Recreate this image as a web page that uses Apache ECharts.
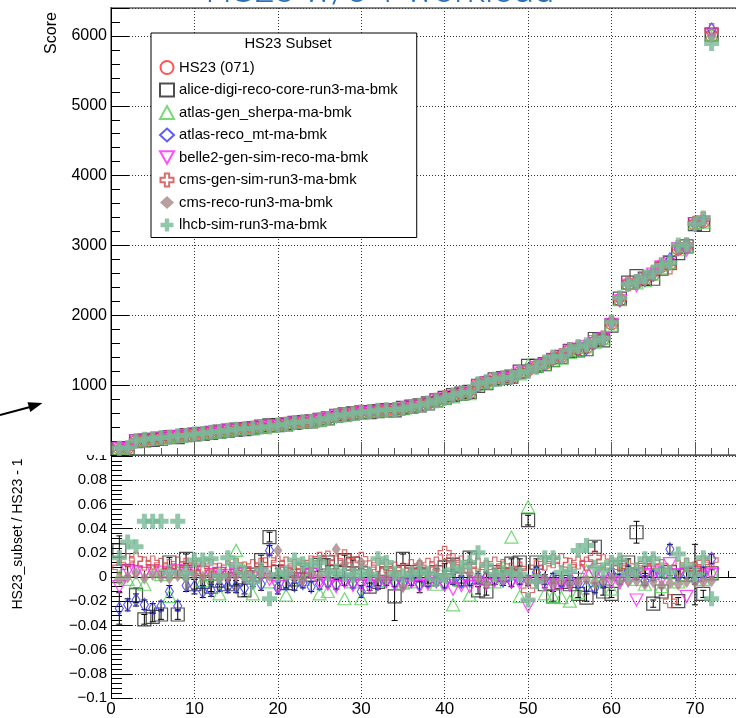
<!DOCTYPE html>
<html>
<head>
<meta charset="utf-8">
<title>HS23 w/o 1 workload</title>
<script src="https://cdn.jsdelivr.net/npm/echarts@6/dist/echarts.min.js"></script>
<style>
html,body{margin:0;padding:0;background:#fff;overflow:hidden;}
#main{width:760px;height:718px;}
</style>
</head>
<body>
<div id="main"></div>
<script>
// x positions of the 72 servers (sorted by HS23 score)
var xs = [1,2,3,4,5,6,7,8,9,10,11,12,13,14,15,16,17,18,19,20,21,22,23,24,25,26,27,28,29,30,31,32,33,34,35,36,
          37,38,39,40,41,42,43,44,45,46,47,48,49,50,51,52,53,54,55,56,57,58,59,60,61,62,63,64,65,66,67,68,69,70,71,72];

// HS23 score (upper panel)
var hs23 = [95,100,200,215,225,240,255,265,280,295,305,320,335,350,365,375,385,400,410,425,440,460,470,480,500,520,
            560,575,590,610,620,630,640,650,665,690,710,740,780,810,850,880,890,1000,1040,1080,1100,1110,1180,1220,
            1260,1310,1380,1410,1500,1520,1540,1620,1660,1880,2220,2440,2470,2510,2580,2700,2740,2950,2980,3300,3340,6000];

// HS23_subset / HS23 - 1 (lower panel), one array per subset
var alice = [0.022,0.005,-0.015,-0.035,-0.033,-0.031,0.012,-0.031,0.015,-0.006,-0.004,-0.008,-0.003,-0.006,-0.002,-0.011,
             0.002,0.014,0.033,0.004,-0.005,-0.002,0.006,0.002,0.010,0.012,0.004,0.014,0.011,0.003,-0.008,-0.004,0.003,
             -0.016,0.015,0.004,0.002,-0.002,0.004,0.008,0.010,-0.002,0.016,-0.011,-0.012,0.004,0.002,0.011,0.012,0.047,
             0.012,-0.006,-0.016,-0.004,-0.006,-0.014,-0.017,0.025,-0.012,-0.014,0.008,0.012,0.037,0.006,-0.022,-0.012,
             0.004,-0.020,0.002,0.002,-0.014,0.003];
var aliceErr = [0.012,0.004,0.006,0.004,0.004,0.004,0.004,0.004,0.004,0.004,0.004,0.004,0.003,0.004,0.004,0.005,
                0.003,0.004,0.004,0.003,0.004,0.003,0.003,0.003,0.004,0.003,0.003,0.004,0.003,0.004,0.003,0.003,0.003,
                0.020,0.004,0.003,0.006,0.003,0.003,0.003,0.004,0.003,0.004,0.003,0.003,0.003,0.003,0.004,0.003,0.004,
                0.003,0.003,0.004,0.003,0.003,0.003,0.003,0.004,0.003,0.003,0.003,0.003,0.009,0.003,0.003,0.003,
                0.003,0.003,0.003,0.025,0.003,0.003];
var atlasGen = [0.000,-0.002,-0.004,-0.006,0.005,0.002,-0.016,0.004,0.006,0.008,-0.003,0.002,-0.014,0.006,0.022,0.005,
                -0.014,0.004,-0.004,0.002,-0.015,0.003,-0.002,0.004,-0.014,-0.012,0.002,-0.018,-0.004,-0.018,0.003,-0.003,
                0.000,0.002,-0.005,-0.004,0.003,-0.002,-0.006,0.001,-0.023,-0.003,-0.015,0.002,0.000,-0.004,0.008,0.033,
                -0.016,0.058,0.003,-0.014,-0.016,-0.017,-0.020,-0.013,0.005,-0.003,0.004,-0.010,0.002,0.007,-0.002,-0.006,
                0.003,-0.008,0.004,-0.004,0.002,0.006,-0.002,0.004];
var atlasReco = [-0.026,-0.023,-0.019,-0.023,-0.026,-0.024,-0.012,-0.024,-0.007,-0.008,-0.012,-0.011,-0.007,-0.008,-0.008,
                 -0.009,-0.004,-0.006,0.022,-0.009,-0.006,-0.007,-0.005,-0.008,-0.006,-0.004,-0.006,-0.003,-0.005,-0.012,
                 -0.004,-0.006,-0.003,-0.004,-0.005,-0.003,-0.006,-0.004,-0.003,-0.005,-0.002,-0.004,-0.003,-0.001,0.000,
                 -0.002,-0.003,-0.004,-0.002,-0.003,0.004,-0.002,-0.001,-0.004,-0.003,-0.005,-0.008,-0.009,-0.004,0.003,
                 -0.002,0.005,0.002,-0.003,0.001,0.004,0.023,0.001,0.003,-0.002,0.004,0.015];
var atlasRecoErr = [0.013,0.005,0.005,0.004,0.004,0.004,0.005,0.004,0.005,0.006,0.005,0.005,0.005,0.005,0.005,0.005,
                    0.004,0.005,0.004,0.005,0.004,0.004,0.004,0.004,0.004,0.004,0.004,0.004,0.004,0.005,0.004,0.004,
                    0.004,0.004,0.004,0.004,0.007,0.004,0.004,0.004,0.004,0.004,0.004,0.004,0.004,0.004,0.004,0.004,
                    0.004,0.004,0.004,0.004,0.004,0.004,0.004,0.004,0.004,0.004,0.004,0.004,0.004,0.004,0.004,0.004,
                    0.004,0.004,0.004,0.004,0.004,0.004,0.004,0.004];
var belle2 = [-0.008,0.005,0.004,0.003,0.005,0.004,0.002,0.005,0.003,0.006,0.004,0.002,0.003,0.001,0.002,0.003,0.000,
              0.002,-0.002,-0.008,0.003,0.001,-0.002,0.002,-0.004,-0.006,-0.008,-0.004,-0.007,-0.006,-0.008,-0.005,-0.004,
              -0.006,-0.007,-0.004,-0.008,-0.006,-0.004,-0.007,-0.010,-0.007,-0.008,-0.005,-0.006,-0.003,-0.002,-0.004,
              -0.005,-0.024,-0.004,-0.006,-0.007,-0.006,-0.007,-0.002,0.008,0.003,0.001,-0.004,-0.005,-0.003,-0.019,
              0.002,0.004,-0.002,0.011,0.002,-0.016,0.004,0.000,0.002];
var cmsGen = [0.008,0.014,0.015,0.011,0.012,0.010,0.009,0.011,0.010,0.008,0.007,0.009,0.006,0.008,0.010,0.007,0.009,
              0.010,0.014,0.012,0.011,0.009,0.008,0.012,0.015,0.016,0.012,0.017,0.010,0.015,0.008,0.010,0.009,0.007,
              0.006,0.009,0.008,0.010,0.011,0.020,0.014,0.012,0.009,0.010,0.008,0.011,0.009,0.006,0.007,-0.011,0.008,
              0.011,0.013,0.014,0.010,0.012,0.011,0.016,0.013,0.008,0.011,0.009,0.006,0.011,0.012,0.009,-0.020,0.008,
              0.010,0.007,0.012,0.014];
var cmsReco = [-0.002,0.000,0.003,-0.001,0.002,0.000,-0.001,0.001,-0.001,0.002,0.000,0.001,-0.002,0.000,0.001,-0.001,
               0.000,0.002,0.001,0.022,0.001,0.000,-0.002,0.003,0.001,0.004,0.023,0.011,0.006,0.012,0.004,0.000,-0.001,
               0.002,-0.008,0.005,0.011,0.003,0.006,0.000,0.012,0.005,0.003,-0.001,-0.005,0.002,-0.002,0.004,0.000,
               -0.003,-0.004,-0.001,-0.005,-0.003,-0.006,-0.004,-0.002,-0.005,-0.003,-0.001,-0.004,-0.003,-0.003,-0.006,
               -0.004,-0.007,-0.005,-0.006,-0.004,-0.004,-0.004,-0.003];
var lhcb = [0.016,0.029,0.025,0.046,0.046,0.046,0.004,0.046,0.003,0.014,0.014,0.015,0.001,0.016,0.010,0.003,-0.004,
            0.006,-0.018,0.002,0.004,0.014,0.011,0.010,0.012,0.003,0.005,0.002,0.001,0.004,0.002,0.015,0.012,0.003,
            0.001,0.002,0.004,0.003,-0.002,0.001,0.006,0.008,0.012,0.020,0.010,0.002,0.004,0.003,0.002,-0.019,-0.004,
            0.016,0.016,0.004,0.005,0.022,0.026,0.008,0.006,0.012,0.014,0.002,0.006,0.015,0.015,0.006,0.004,0.019,
            0.010,0.002,0.016,-0.018];

var names = ['HS23 (071)', 'alice-digi-reco-core-run3-ma-bmk', 'atlas-gen_sherpa-ma-bmk', 'atlas-reco_mt-ma-bmk',
             'belle2-gen-sim-reco-ma-bmk', 'cms-gen-sim-run3-ma-bmk', 'cms-reco-run3-ma-bmk', 'lhcb-sim-run3-ma-bmk'];
var ratios = [null, alice, atlasGen, atlasReco, belle2, cmsGen, cmsReco, lhcb];

var cross = 'path://M1,0L2,0L2,1L3,1L3,2L2,2L2,3L1,3L1,2L0,2L0,1L1,1Z';
var downTri = 'path://M0,0L10,0L5,9Z';
var looks = [
    {symbol: 'circle',   size: 12,       color: '#ff2a2a', open: true},
    {symbol: 'rect',     size: 13,       color: '#222222', open: true},
    {symbol: 'triangle', size: [13, 12], color: '#55d055', open: true},
    {symbol: 'diamond',  size: [8, 13],  color: '#3333ff', open: true},
    {symbol: downTri,    size: [13, 12], color: '#ff20ff', open: true},
    {symbol: cross,      size: 13,       color: '#d04848', open: true},
    {symbol: 'diamond',  size: [9, 13],  color: '#a88888', open: false},
    {symbol: cross,      size: 15,       color: '#78b996', open: false}
];

var font = '"Liberation Sans", Arial, Helvetica, sans-serif';
var dotted = {color: '#333', width: 1, type: [1, 2]};

function markStyle(k) {
    var lk = looks[k];
    if (lk.open) {
        return {color: 'rgba(0,0,0,0)', borderColor: lk.color, borderWidth: 1.2};
    }
    return {color: lk.color, borderWidth: 0};
}

var series = [];
// error bars in the lower panel
function errBars(vals, errs) {
    return {
        type: 'custom', xAxisIndex: 1, yAxisIndex: 1, silent: true, z: 1,
        renderItem: function (params, api) {
            var x = api.value(0), y = api.value(1), e = api.value(2);
            var hi = api.coord([x, y + e]), lo = api.coord([x, y - e]);
            var st = {stroke: '#000', lineWidth: 1};
            return {type: 'group', children: [
                {type: 'line', shape: {x1: hi[0], y1: hi[1], x2: lo[0], y2: lo[1]}, style: st},
                {type: 'line', shape: {x1: hi[0] - 3, y1: hi[1], x2: hi[0] + 3, y2: hi[1]}, style: st},
                {type: 'line', shape: {x1: lo[0] - 3, y1: lo[1], x2: lo[0] + 3, y2: lo[1]}, style: st}
            ]};
        },
        data: xs.map(function (x, i) { return [x, vals[i], errs[i]]; })
    };
}
series.push(errBars(alice, aliceErr));
series.push(errBars(atlasReco, atlasRecoErr));

names.forEach(function (nm, k) {
    var lk = looks[k];
    var top = xs.map(function (x, i) {
        return [x, k === 0 ? hs23[i] : hs23[i] * (1 + ratios[k][i])];
    });
    series.push({
        name: nm, type: 'scatter', xAxisIndex: 0, yAxisIndex: 0, z: 2 + k,
        symbol: lk.symbol, symbolSize: lk.size,
        itemStyle: markStyle(k), data: top
    });
    if (k > 0) {
        series.push({
            name: nm, type: 'scatter', xAxisIndex: 1, yAxisIndex: 1, z: 2 + k,
            symbol: lk.symbol, symbolSize: lk.size,
            itemStyle: markStyle(k),
            data: xs.map(function (x, i) { return [x, ratios[k][i]]; })
        });
    }
});

var chart = echarts.init(document.getElementById('main'), null, {renderer: 'canvas'});
chart.setOption({
    animation: false,
    backgroundColor: '#fff',
    grid: [
        {left: 111, top: 8, right: 0, height: 447, show: true, borderColor: '#888', borderWidth: 2},
        {left: 111, top: 456, right: 0, height: 243.5}
    ],
    legend: {
        data: names, orient: 'vertical', left: 151, top: 33,
        padding: [27, 19, 5, 8], itemGap: 7.5, itemWidth: 14, itemHeight: 13,
        backgroundColor: '#fff', borderColor: '#000', borderWidth: 1, borderRadius: 0,
        textStyle: {fontFamily: font, fontSize: 14.8, lineHeight: 15, color: '#000'},
        z: 20
    },
    xAxis: [
        {
            gridIndex: 0, type: 'value', min: 0, max: 77.8, interval: 10,
            axisLine: {lineStyle: {color: '#555', width: 1}},
            axisTick: {inside: true, length: 13, lineStyle: {color: '#555'}},
            minorTick: {show: true, splitNumber: 5, length: 7, lineStyle: {color: '#555'}},
            axisLabel: {show: false},
            splitLine: {show: true, lineStyle: dotted}
        },
        {
            gridIndex: 1, type: 'value', min: 0, max: 77.8, interval: 10,
            axisLine: {lineStyle: {color: '#000', width: 1}},
            axisTick: {inside: true, length: 12, lineStyle: {color: '#000'}},
            minorTick: {show: true, splitNumber: 5, length: 6, lineStyle: {color: '#000'}},
            axisLabel: {fontFamily: font, fontSize: 17, color: '#000', margin: 3, showMaxLabel: false},
            splitLine: {show: true, lineStyle: dotted}
        }
    ],
    yAxis: [
        {
            gridIndex: 0, type: 'value', min: 0, max: 6400, interval: 1000,
            axisLine: {show: true, lineStyle: {color: '#000', width: 1}},
            axisTick: {show: true, inside: true, length: 18, lineStyle: {color: '#000'}},
            minorTick: {show: true, splitNumber: 5, length: 9, lineStyle: {color: '#000'}},
            axisLabel: {fontFamily: font, fontSize: 16, color: '#000', margin: 4,
                        showMinLabel: false, showMaxLabel: false,
                        formatter: function (v) { return String(v); }},
            splitLine: {show: true, lineStyle: dotted}
        },
        {
            gridIndex: 1, type: 'value', min: -0.1, max: 0.1, interval: 0.02,
            axisLine: {show: true, lineStyle: {color: '#000', width: 1}},
            axisTick: {show: true, inside: true, length: 21, lineStyle: {color: '#000'}},
            minorTick: {show: true, splitNumber: 5, length: 11, lineStyle: {color: '#000'}},
            axisLabel: {
                fontFamily: font, fontSize: 15, color: '#000', margin: 4,
                formatter: function (v) {
                    var s = String(parseFloat(v.toFixed(2)));
                    return s.replace('-', '\u2212');
                }
            },
            splitLine: {show: true, lineStyle: dotted}
        }
    ],
    graphic: [
        {type: 'rect', z: 50, shape: {x: 60, y: 440, width: 50, height: 15}, style: {fill: '#fff'}},
        {type: 'text', z: 50, x: 380, y: 11.5,
         style: {text: 'HS23 w/o 1 workload', font: '300 37px Roboto, "Open Sans", sans-serif',
                 fill: '#2a6fb8', align: 'center', verticalAlign: 'bottom'}},
        {type: 'text', z: 50, x: 52, y: 33, rotation: Math.PI / 2,
         style: {text: 'Score', font: '16px ' + font, fill: '#000', align: 'center', verticalAlign: 'middle'}},
        {type: 'text', z: 50, x: 18, y: 534, rotation: Math.PI / 2,
         style: {text: 'HS23_subset / HS23 - 1', font: '14px ' + font, fill: '#000', align: 'center', verticalAlign: 'middle'}},
        {type: 'text', z: 50, x: 288, y: 44,
         style: {text: 'HS23 Subset', font: '14.8px ' + font, fill: '#000', align: 'center', verticalAlign: 'middle'}},
        {type: 'polyline', z: 50, shape: {points: [[0, 415], [32, 406.5]]}, style: {stroke: '#000', lineWidth: 2}},
        {type: 'polygon', z: 50, shape: {points: [[42.5, 403], [27.5, 402.3], [30.3, 411.9]]}, style: {fill: '#000'}}
    ],
    series: series
});
</script>
</body>
</html>
